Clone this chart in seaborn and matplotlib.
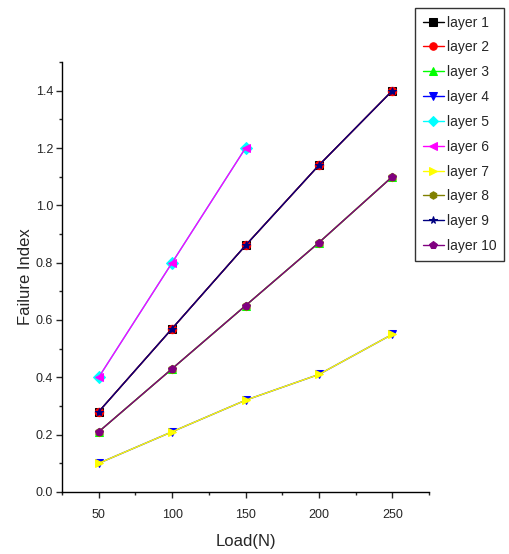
import numpy as np
import pandas as pd
import matplotlib
matplotlib.use("Agg")
import matplotlib.pyplot as plt
import seaborn as sns
from matplotlib.ticker import MultipleLocator

# Дані: навантаження та індекс руйнування для кожного шару
load = [50, 100, 150, 200, 250]
load_short = [50, 100, 150]

top_line = [0.28, 0.57, 0.86, 1.14, 1.40]      # layer 1, 2, 9
mid_line = [0.21, 0.43, 0.65, 0.87, 1.10]      # layer 3, 8, 10
low_line = [0.10, 0.21, 0.32, 0.41, 0.55]      # layer 4, 7
short_line = [0.40, 0.80, 1.20]                # layer 5, 6

layers = ["layer 1", "layer 2", "layer 3", "layer 4", "layer 5",
          "layer 6", "layer 7", "layer 8", "layer 9", "layer 10"]
values = [top_line, top_line, mid_line, low_line, short_line,
          short_line, low_line, mid_line, top_line, mid_line]
colors = ["black", "red", "#00ff00", "blue", "cyan",
          "magenta", "yellow", "#808000", "#000080", "#800080"]
markers = ["s", "o", "^", "v", "D", "<", ">", "h", "*", "p"]

sns.set_style("ticks")
plt.rcParams["font.family"] = ["Liberation Sans", "DejaVu Sans"]

fig = plt.figure(figsize=(5.1, 5.54), dpi=100)
ax = fig.add_axes([0.1216, 0.112, 0.7196, 0.776])

for name, vals, c, m in zip(layers, values, colors, markers):
    x = load if len(vals) == 5 else load_short
    df = pd.DataFrame({"Load": x, "FI": vals})
    sns.lineplot(data=df, x="Load", y="FI", ax=ax, color=c, marker=m,
                 markersize=6, markeredgecolor=c, linewidth=1, label=name)

ax.set_xlim(25, 275)
ax.set_ylim(0, 1.5)
ax.xaxis.set_major_locator(MultipleLocator(50))
ax.xaxis.set_minor_locator(MultipleLocator(25))
ax.yaxis.set_minor_locator(MultipleLocator(0.1))
ax.set_yticks(np.arange(0, 1.5, 0.2))
ax.set_yticklabels([f"{v:.1f}" for v in np.arange(0, 1.5, 0.2)])
ax.tick_params(axis="both", which="major", labelsize=9, length=4, width=1)
ax.tick_params(axis="x", which="major", pad=8.5)
ax.tick_params(axis="y", which="major", pad=2.5)
ax.tick_params(axis="both", which="minor", length=2.5, width=1)
for s in ["top", "right"]:
    ax.spines[s].set_visible(False)
for s in ["left", "bottom"]:
    ax.spines[s].set_linewidth(1)
    ax.spines[s].set_color("black")

ax.set_xlabel("Load(N)", fontsize=12, labelpad=9)
ax.set_ylabel("Failure Index", fontsize=12, labelpad=2)

leg = ax.legend(loc="upper left", bbox_to_anchor=(0.962, 1.126), frameon=True,
                fancybox=False, edgecolor="black", fontsize=10,
                handlelength=1.5, labelspacing=0.78, borderpad=0.55,
                handletextpad=0.25, borderaxespad=0, markerscale=0.9)
leg.get_frame().set_linewidth(1)

fig.savefig("out.png", dpi=100)
